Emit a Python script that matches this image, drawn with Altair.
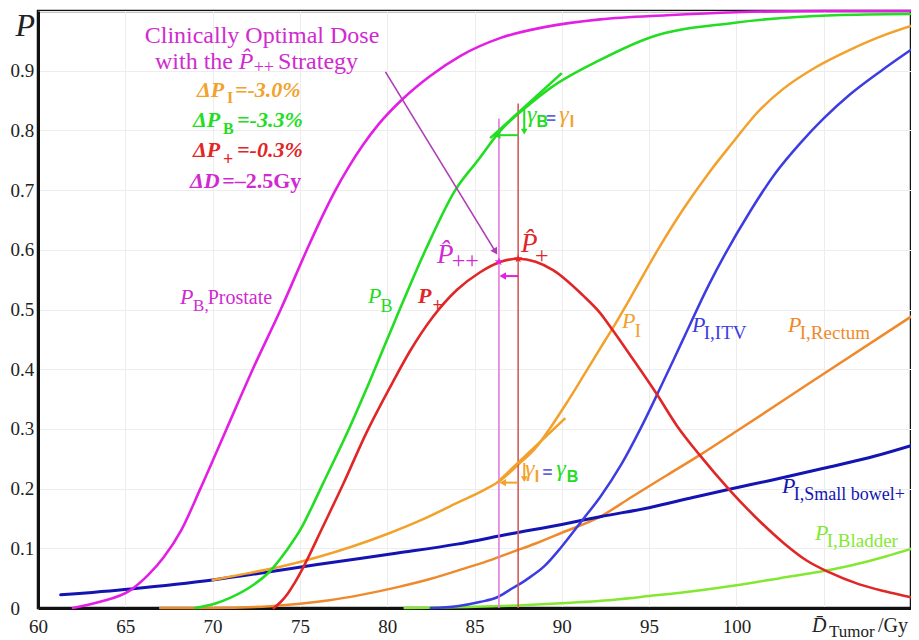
import altair as alt
import pandas as pd

# ---------------- curve values (dose in Gy, probability) ----------------
prostate_x = [62.0, 63.5, 65.3, 66.3, 67.2, 68.2, 69.3, 70.8, 72.3, 73.9, 75.4, 76.2, 77.0, 77.8,
              78.6, 79.5, 80.9, 82.5, 84.2, 86.5, 89.0, 92.2, 96.0, 100.0, 105.0, 110.0]
prostate_y = [0.0, 0.01, 0.03, 0.055, 0.085, 0.13, 0.20, 0.30, 0.40, 0.50, 0.60, 0.651, 0.698, 0.739,
              0.775, 0.81, 0.853, 0.892, 0.925, 0.955, 0.973, 0.986, 0.993, 0.998, 1.0, 1.0]

pb_x = [69.0, 70.2, 71.0, 72.2, 73.3, 74.2, 75.1, 75.7, 76.3, 77.7, 79.0, 80.5, 82.2, 83.9, 85.2,
        86.5, 88.0, 89.3, 92.2, 95.1, 99.8, 105.6, 110.0]
pb_y = [0.0, 0.008, 0.017, 0.036, 0.062, 0.095, 0.135, 0.17, 0.207, 0.293, 0.38, 0.485, 0.60, 0.70,
        0.75, 0.80, 0.84, 0.87, 0.918, 0.956, 0.98, 0.993, 0.995]

pplus_x = [73.5, 73.9, 74.3, 74.7, 75.1, 75.6, 76.15, 77.5, 78.8, 80.35, 81.3, 82.6, 84.0, 85.3,
           86.5, 87.5, 88.5, 89.5, 91.2, 92.2, 92.9, 94.0, 95.4, 96.6, 97.9, 99.6, 101.0, 102.7,
           104.0, 105.3, 107.0, 108.5, 110.0]
pplus_y = [0.0, 0.01, 0.024, 0.042, 0.063, 0.092, 0.126, 0.209, 0.293, 0.38, 0.43, 0.487, 0.533,
           0.562, 0.58, 0.585, 0.58, 0.566, 0.524, 0.494, 0.466, 0.42, 0.36, 0.305, 0.256, 0.198,
           0.155, 0.109, 0.08, 0.06, 0.04, 0.028, 0.018]

pi_x = [70.0, 72.0, 74.0, 76.0, 78.0, 80.0, 82.0, 84.0, 85.5, 86.5, 87.5, 88.5, 89.3, 90.2, 91.2,
        92.2, 92.9, 93.9, 95.6, 97.0, 98.4, 99.8, 101.2, 102.7, 104.5, 106.5, 108.5, 110.0]
pi_y = [0.047, 0.058, 0.07, 0.085, 0.103, 0.124, 0.148, 0.176, 0.197, 0.214, 0.24, 0.268, 0.30,
        0.34, 0.387, 0.435, 0.468, 0.518, 0.605, 0.67, 0.728, 0.78, 0.83, 0.87, 0.905, 0.935, 0.96,
        0.975]

rectum_x = [67.0, 70.0, 73.3, 75.0, 76.7, 78.5, 80.6, 82.5, 84.4, 86.0, 87.0, 88.5, 90.0, 92.2,
            94.0, 96.0, 97.9, 100.0, 104.0, 110.0]
rectum_y = [0.0, 0.0, 0.003, 0.007, 0.013, 0.022, 0.035, 0.049, 0.066, 0.081, 0.092, 0.108, 0.126,
            0.153, 0.186, 0.222, 0.256, 0.296, 0.373, 0.488]

itv_x = [82.5, 84.0, 85.3, 86.3, 87.0, 88.0, 89.0, 90.0, 91.2, 92.2, 93.4, 94.5, 95.5, 96.9, 98.4,
         100.8, 102.2, 103.7, 105.0, 106.5, 108.3, 110.0]
itv_y = [0.0, 0.003, 0.01, 0.018, 0.03, 0.048, 0.07, 0.103, 0.148, 0.186, 0.24, 0.30, 0.36,
         0.447, 0.54, 0.665, 0.727, 0.78, 0.82, 0.86, 0.90, 0.935]

bowel_x = [61.3, 65.3, 70.0, 72.9, 76.0, 80.6, 84.0, 87.0, 90.0, 92.2, 95.0, 97.5, 99.6, 102.0,
           105.0, 108.0, 110.0]
bowel_y = [0.022, 0.032, 0.047, 0.059, 0.073, 0.092, 0.107, 0.124, 0.14, 0.153, 0.168, 0.185,
           0.199, 0.214, 0.234, 0.255, 0.272]

bladder_x = [81.0, 85.0, 88.0, 90.0, 93.0, 95.0, 97.5, 100.0, 102.5, 105.4, 107.5, 110.0]
bladder_y = [0.0, 0.002, 0.005, 0.008, 0.014, 0.02, 0.028, 0.038, 0.05, 0.064, 0.078, 0.099]

# optimal doses (Gy) and peak values
dose_pp, peak_pp = 86.4, 0.58
dose_p, peak_p = 87.5, 0.585

# ---------------- colours ----------------
MAG = "#E21FE2"
MAG_T = "#D02AD0"
GREEN = "#22DD22"
RED = "#E02626"
ORANGE_I = "#F2A22C"
ORANGE_R = "#EF8A2C"
BLUE_ITV = "#3C3CE2"
BLUE_SB = "#1414B2"
BLADDER = "#84E832"
PINK_V = "#E27BDB"
RED_V = "#D45A5A"
ARROW = "#B03CB8"
EQ = "#6464E0"
INK = "#222222"

STAR = ("M0,-1L0.2245,-0.309L0.951,-0.309L0.363,0.118L0.588,0.809L0,0.382"
        "L-0.588,0.809L-0.363,0.118L-0.951,-0.309L-0.2245,-0.309Z")

names = ["Bladder", "Rectum", "SmallBowel", "ITV", "PI", "Prostate", "PB", "Pplus"]
colors = [BLADDER, ORANGE_R, BLUE_SB, BLUE_ITV, ORANGE_I, MAG, GREEN, RED]


def frame(name, xs, ys, w):
    return pd.DataFrame({"x": xs, "y": ys, "curve": name, "w": w})


curves = pd.concat([
    frame("Bladder", bladder_x, bladder_y, 2.5),
    frame("Rectum", rectum_x, rectum_y, 2.5),
    frame("SmallBowel", bowel_x, bowel_y, 3.0),
    frame("ITV", itv_x, itv_y, 2.5),
    frame("PI", pi_x, pi_y, 2.5),
    frame("Prostate", prostate_x, prostate_y, 2.6),
    frame("PB", pb_x, pb_y, 2.6),
    frame("Pplus", pplus_x, pplus_y, 2.6),
], ignore_index=True)

# ---------------- scales / axes ----------------
XS = alt.Scale(domain=[60, 110], nice=False, zero=False)
YS = alt.Scale(domain=[0, 1], nice=False, zero=False)
SERIF = "Liberation Serif"
SANS = "Liberation Sans"

XAXIS = alt.Axis(values=list(range(60, 111, 5)),
                 labelExpr="datum.value <= 100 ? datum.label : ''",
                 title=None, grid=True, ticks=False, tickSize=0, labelPadding=9,
                 labelFont=SERIF, labelFontSize=19, labelColor=INK, labelFlush=False,
                 labelOverlap=False, domainWidth=3, domainColor="#111111",
                 gridColor="#ededed", gridWidth=1)
YAXIS = alt.Axis(values=[round(i * 0.1, 1) for i in range(11)],
                 labelExpr="datum.value == 0 ? '0' : (datum.value > 0.95 ? '' : format(datum.value, '.1f'))",
                 title="P", titleAngle=0, titleX=-23, titleY=24, titleAlign="left",
                 titleBaseline="alphabetic", titleFont=SERIF, titleFontSize=32,
                 titleFontStyle="italic", titleFontWeight="normal", titleColor=INK,
                 grid=True, ticks=False, tickSize=0, labelAlign="left", labelPadding=28,
                 labelFont=SERIF, labelFontSize=19, labelColor=INK, labelFlush=False,
                 labelOverlap=False, domainWidth=3, domainColor="#111111",
                 gridColor="#ededed", gridWidth=1)


def X(f="x"):
    return alt.X(f, type="quantitative", scale=XS, axis=XAXIS)


def Y(f="y"):
    return alt.Y(f, type="quantitative", scale=YS, axis=YAXIS)


lines = alt.Chart(curves).mark_line(interpolate="monotone", strokeCap="round").encode(
    x=X(), y=Y(),
    color=alt.Color("curve:N", scale=alt.Scale(domain=names, range=colors), legend=None),
    strokeWidth=alt.StrokeWidth("w:Q", scale=None),
    detail="curve:N",
)

# ---------------- segments: dose lines, tangents, arrow shafts ----------------
segments = pd.DataFrame([
    dict(x=dose_pp, x2=dose_pp, y=0.0, y2=0.82, c=PINK_V, w=1.6),
    dict(x=dose_p, x2=dose_p, y=0.0, y2=0.845, c=RED_V, w=1.6),
    dict(x=85.9, x2=90.0, y=0.787, y2=0.896, c=GREEN, w=2.6),
    dict(x=86.3, x2=90.2, y=0.21, y2=0.318, c=ORANGE_I, w=2.6),
    dict(x=79.9, x2=86.2, y=0.898, y2=0.597, c=ARROW, w=1.6),
    dict(x=87.5, x2=86.4, y=0.792, y2=0.792, c=GREEN, w=2.0),
    dict(x=87.85, x2=87.85, y=0.835, y2=0.80, c=GREEN, w=2.0),
    dict(x=87.5, x2=86.7, y=0.21, y2=0.21, c=ORANGE_I, w=2.0),
    dict(x=87.85, x2=87.85, y=0.243, y2=0.218, c=ORANGE_I, w=2.0),
    dict(x=87.5, x2=86.7, y=0.556, y2=0.556, c=MAG, w=2.0),
])
rules = alt.Chart(segments).mark_rule().encode(
    x=X(), x2="x2:Q", y=Y(), y2="y2:Q",
    color=alt.Color("c:N", scale=None), strokeWidth=alt.StrokeWidth("w:Q", scale=None),
)

heads = pd.DataFrame([
    dict(x=86.2, y=0.597, shape="triangle-up", a=148, c=ARROW, s=60),
    dict(x=86.3, y=0.792, shape="triangle-up", a=270, c=GREEN, s=55),
    dict(x=87.85, y=0.798, shape="triangle-up", a=180, c=GREEN, s=45),
    dict(x=86.62, y=0.21, shape="triangle-up", a=270, c=ORANGE_I, s=55),
    dict(x=87.85, y=0.216, shape="triangle-up", a=180, c=ORANGE_I, s=45),
    dict(x=86.62, y=0.556, shape="triangle-up", a=270, c=MAG, s=55),
    dict(x=dose_pp, y=peak_pp, shape=STAR, a=0, c=MAG, s=80),
    dict(x=dose_p, y=peak_p, shape=STAR, a=0, c=RED, s=80),
])
points = alt.Chart(heads).mark_point(filled=True, opacity=1, strokeWidth=0).encode(
    x=X(), y=Y(),
    shape=alt.Shape("shape:N", scale=None),
    angle=alt.Angle("a:Q", scale=None),
    color=alt.Color("c:N", scale=None),
    size=alt.Size("s:Q", scale=None),
)

# ---------------- text labels ----------------
# (text, dose, P, colour, font size, style, align)
labels = [
    ("Clinically Optimal Dose", 72.83, 0.946, MAG_T, 24, "serif", "center"),
    ("with the", 71.17, 0.903, MAG_T, 24, "serif", "right"),
    ("P\u0302", 71.5, 0.903, MAG_T, 24, "serif_i", "left"),
    ("++", 72.35, 0.896, MAG_T, 18, "serif", "left"),
    ("Strategy", 73.75, 0.903, MAG_T, 24, "serif", "left"),

    ("\u0394P", 69.11, 0.856, ORANGE_I, 22, "serif_bi", "left"),
    ("I", 70.82, 0.846, ORANGE_I, 16, "serif_b", "left"),
    ("=-3.0%", 71.28, 0.856, ORANGE_I, 22, "serif_bi", "left"),
    ("\u0394P", 68.88, 0.806, GREEN, 22, "serif_bi", "left"),
    ("B", 70.60, 0.794, GREEN, 16, "serif_b", "left"),
    ("=-3.3%", 71.40, 0.806, GREEN, 22, "serif_bi", "left"),
    ("\u0394P", 68.88, 0.755, RED, 22, "serif_bi", "left"),
    ("+", 70.60, 0.742, RED, 18, "serif_b", "left"),
    ("=-0.3%", 71.40, 0.755, RED, 22, "serif_bi", "left"),
    ("\u0394D", 68.71, 0.7035, MAG_T, 22, "serif_bi", "left"),
    ("=\u20132.5Gy", 70.55, 0.7035, MAG_T, 22, "serif_b", "left"),

    ("P\u0302", 82.85, 0.578, MAG_T, 27, "serif_i", "left"),
    ("++", 83.7, 0.5695, MAG_T, 24, "serif", "left"),
    ("P\u0302", 87.66, 0.596, RED, 27, "serif_i", "left"),
    ("+", 88.46, 0.578, RED, 24, "serif", "left"),

    ("P", 68.13, 0.509, MAG_T, 22, "serif_i", "left"),
    ("B,", 68.88, 0.4975, MAG_T, 17, "serif", "left"),
    ("Prostate", 69.72, 0.509, MAG_T, 20, "serif", "left"),
    ("P", 78.90, 0.511, GREEN, 22, "serif_i", "left"),
    ("B", 79.62, 0.496, GREEN, 18, "serif", "left"),
    ("P", 81.76, 0.511, RED, 22, "serif_bi", "left"),
    ("+", 82.6, 0.4975, RED, 18, "serif_b", "left"),
    ("P", 93.45, 0.469, ORANGE_I, 22, "serif_i", "left"),
    ("I", 94.18, 0.454, ORANGE_I, 19, "serif", "left"),
    ("P", 97.46, 0.462, BLUE_ITV, 22, "serif_i", "left"),
    ("I,ITV", 98.13, 0.4506, BLUE_ITV, 19, "serif", "left"),
    ("P", 102.95, 0.462, ORANGE_R, 22, "serif_i", "left"),
    ("I,Rectum", 103.63, 0.4506, ORANGE_R, 19, "serif", "left"),
    ("P", 102.61, 0.1926, BLUE_SB, 22, "serif_i", "left"),
    ("I,Small bowel+", 103.28, 0.181, BLUE_SB, 18, "serif", "left"),
    ("P", 104.50, 0.1139, BLADDER, 22, "serif_i", "left"),
    ("I,Bladder", 105.17, 0.102, BLADDER, 19, "serif", "left"),

    ("\u03b3", 88.01, 0.814, GREEN, 24, "serif_i", "left"),
    ("B", 88.55, 0.806, GREEN, 16, "sans_b", "left"),
    ("=", 89.1, 0.811, EQ, 17, "sans_b", "left"),
    ("\u03b3", 89.85, 0.814, ORANGE_I, 24, "serif_i", "left"),
    ("I", 90.45, 0.806, ORANGE_I, 16, "sans_b", "left"),
    ("\u03b3", 87.89, 0.221, ORANGE_I, 24, "serif_i", "left"),
    ("I", 88.45, 0.211, ORANGE_I, 16, "sans_b", "left"),
    ("=", 88.9, 0.218, EQ, 17, "sans_b", "left"),
    ("\u03b3", 89.68, 0.221, GREEN, 24, "serif_i", "left"),
    ("B", 90.28, 0.211, GREEN, 16, "sans_b", "left"),

    ("D\u0304", 104.33, -0.040, INK, 20, "serif_i", "left"),
    ("Tumor", 105.30, -0.048, INK, 17, "serif", "left"),
    ("/Gy", 108.11, -0.040, INK, 20, "serif", "left"),
]
lab = pd.DataFrame(labels, columns=["text", "x", "y", "c", "size", "style", "align"])

STYLES = {
    "serif": (SERIF, "normal", "normal"),
    "serif_i": (SERIF, "italic", "normal"),
    "serif_b": (SERIF, "normal", "bold"),
    "serif_bi": (SERIF, "italic", "bold"),
    "sans_b": (SANS, "normal", "bold"),
}

text_layers = []
for (style, align), sub in lab.groupby(["style", "align"]):
    font, fstyle, fweight = STYLES[style]
    text_layers.append(
        alt.Chart(sub).mark_text(font=font, fontStyle=fstyle, fontWeight=fweight,
                                 align=align, baseline="alphabetic").encode(
            x=X(), y=Y(), text="text:N",
            color=alt.Color("c:N", scale=None),
            size=alt.Size("size:Q", scale=None),
        )
    )

chart = alt.layer(lines, rules, points, *text_layers).properties(
    width=873, height=597,
    padding={"left": 30, "top": 3, "right": 0, "bottom": 32},
    autosize=alt.AutoSizeParams(type="none"),
).configure_view(stroke="#111111", strokeWidth=2.5)

chart.save("out.html", embed_options={"renderer": "svg", "actions": False})
